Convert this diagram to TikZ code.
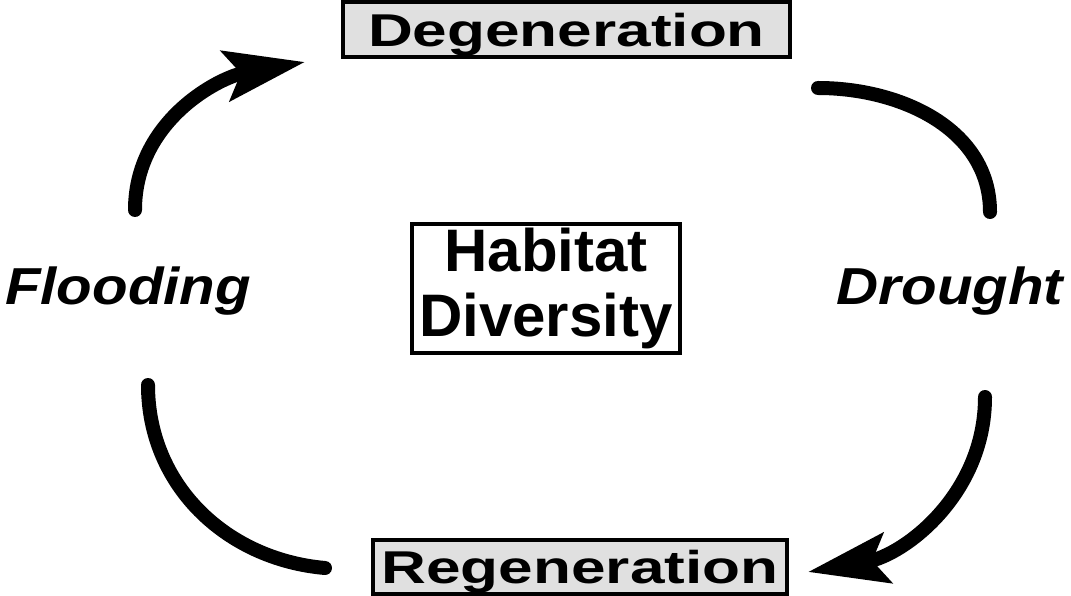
\documentclass[tikz,border=0pt]{standalone}
\usepackage{fontspec}
\setmainfont{Liberation Sans}
\newfontfamily\widefont[FakeStretch=1.35]{Liberation Sans}
\newfontfamily\labelfont[FakeStretch=1.12]{Liberation Sans}
\usetikzlibrary{arrows.meta}

\begin{document}
\begin{tikzpicture}[x=1pt,y=1pt,
	>={Stealth[length=80pt,width=50pt,inset=15pt]},
	stage/.style={draw,line width=4pt,fill=black!12,inner sep=0pt,
		text height=45pt,text depth=10pt,font=\widefont\bfseries\fontsize{46}{52}\selectfont},
	cause/.style={anchor=base,font=\labelfont\bfseries\itshape\fontsize{52}{60}\selectfont},
	cycle/.style={line width=14pt,line cap=round}]
\useasboundingbox (0,0) rectangle (1071,595);

	\node[stage,minimum width=447pt] (deg) at (566.5,565.5) {Degeneration};
	\node[stage,minimum width=414pt,text height=43pt,text depth=11pt] (reg) at (580,28) {Regeneration};
	\node[draw,line width=3.5pt,inner sep=0pt,minimum width=268pt,minimum height=129pt,align=center,
		font=\bfseries\fontsize{60}{65}\selectfont] (hab) at (546,306.5) {Habitat\\Diversity};

	\node[cause] (flood) at (128,290) {Flooding};
	\node[cause] (drought) at (950,290) {Drought};

	\coordinate (fl up) at (135,385);
	\coordinate (fl down) at (148,210);
	\coordinate (dr up) at (990,383);
	\coordinate (dr down) at (985,198);

	\draw[cycle,->] (fl up) to[out=90,in=190] ([xshift=-36pt,yshift=-3pt]deg.south west);
	\draw[cycle] ([xshift=26pt,yshift=-29pt]deg.south east) to[out=0,in=90] (dr up);
	\draw[cycle,->] (dr down) to[out=-90,in=10] ([xshift=19pt,yshift=-5pt]reg.east);
	\draw[cycle] (fl down) to[out=-90,in=175] ([xshift=-46pt,yshift=-1pt]reg.west);

\end{tikzpicture}
\end{document}
